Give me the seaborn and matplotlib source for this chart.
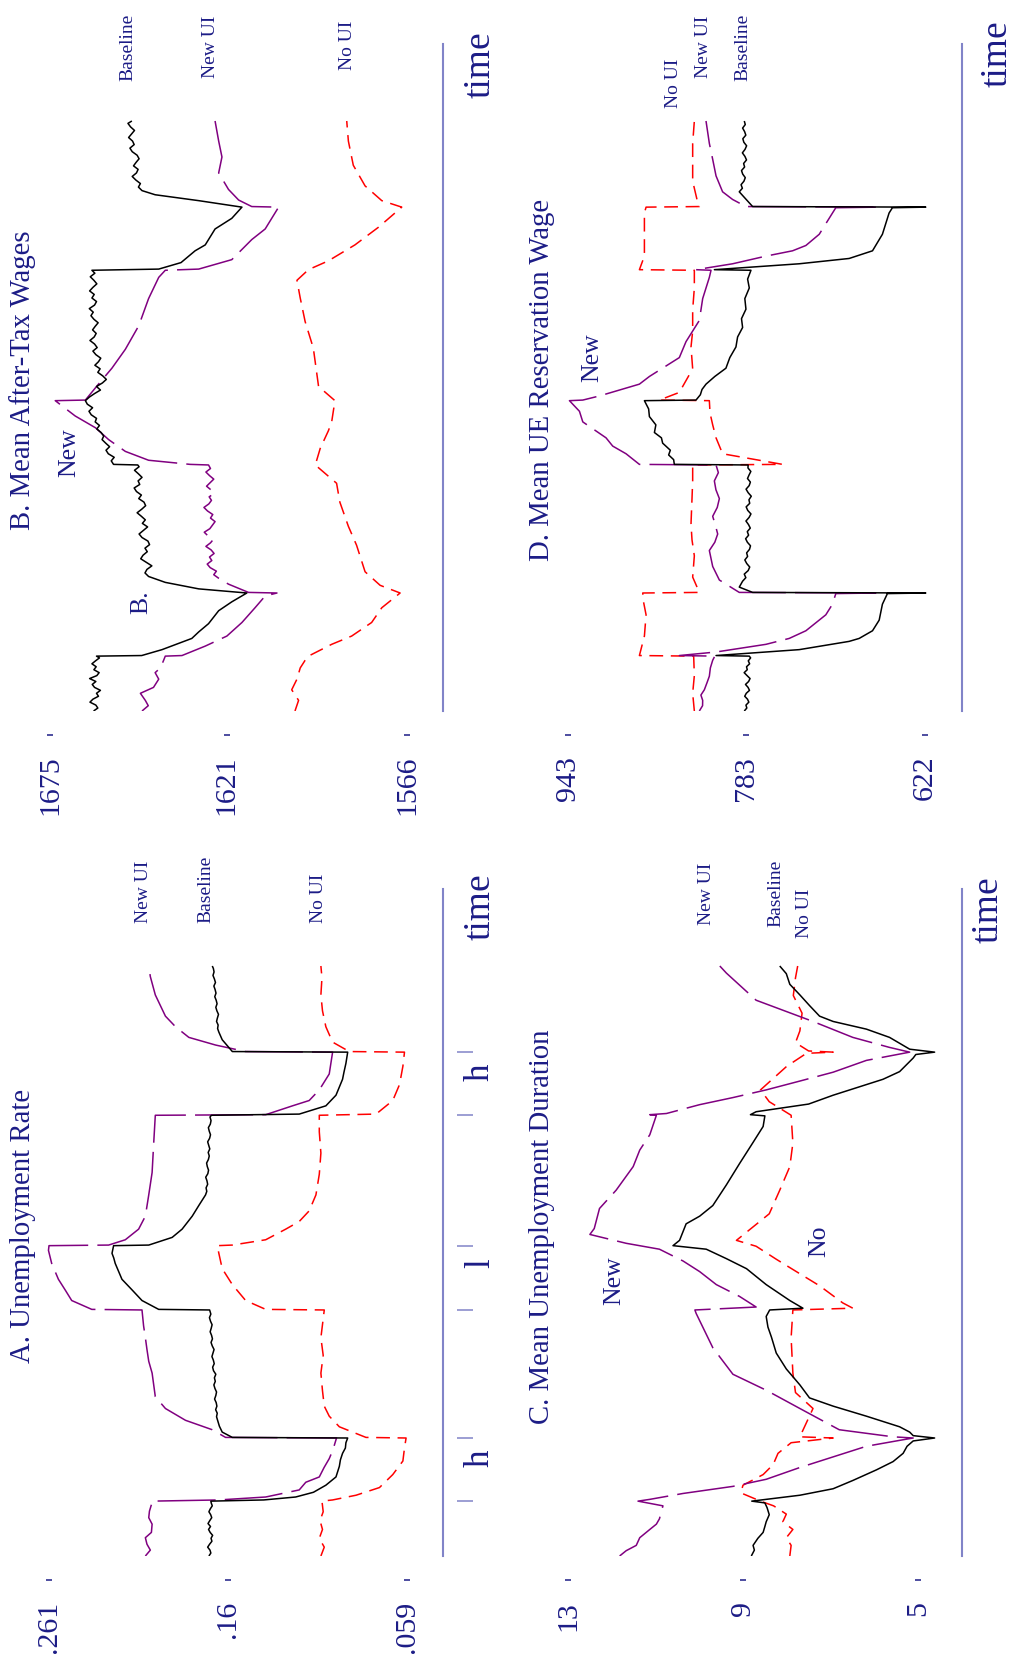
import matplotlib
matplotlib.use("Agg")
import matplotlib.pyplot as plt
import matplotlib.ticker as mticker
import seaborn as sns

sns.set_theme(style="white")
plt.rcParams["font.family"] = ["Liberation Serif", "DejaVu Serif"]

NAVY = "#1c1c86"
AXIS = "#8184c8"
BLACK = "#000000"
PURPLE = "#800080"
RED = "#ff0000"

W, H = 1012, 1664
PX_T = 5.9      # pixels per time unit
T_MAX = 113

# regime boundaries on the time axis (h, l, h shocks)
BOUNDS = [9.3, 20.0, 41.7, 52.6, 74.8, 85.4]
REGIME_LABELS = ["h", "l", "h"]

# ---------------- Panel A: unemployment rate ----------------
A_TICKS = [.261, .16, .059]
A_TICKLABELS = [".261", ".16", ".059"]
A_BASE = [(0, .1709), (.5, .1698), (1, .1703), (1.5, .1716), (2, .1705), (2.5, .1692), (3, .1697),
          (3.5, .1688), (4, .1702), (4.5, .1711), (5, .1700), (5.5, .1714), (6, .1704), (6.5, .1693),
          (7, .1699), (7.5, .1709), (8, .1701), (8.5, .1690), (9, .1696), (9.3, .1698),
          (9.5, .1400), (10.0, .1220), (10.8, .1120), (12.0, .1050), (13.4, .0993), (15.2, .0974),
          (16.3, .0968), (17.4, .0956), (18.3, .0940), (19.2, .0937), (20.0, .0927),
          (20.1, .1577), (21.0, .1634), (22.0, .1650), (23, .1660), (23.6, .1666), (24.2, .1662),
          (24.8, .1671), (25.4, .1664), (26, .1668), (26.6, .1677), (27.2, .1670), (27.8, .1666),
          (28.4, .1675), (29, .1681), (29.6, .1673), (30.2, .1678), (30.8, .1670), (31.4, .1683),
          (32, .1688), (32.6, .1679), (33.2, .1684), (33.8, .1692), (34.4, .1686), (35, .1680),
          (35.6, .1690), (36.2, .1697), (36.8, .1689), (37.4, .1694), (38, .1702), (38.6, .1696),
          (39.2, .1691), (39.8, .1700), (40.4, .1706), (41, .1698), (41.7, .1705),
          (41.8, .1992), (43.3, .2086), (45.1, .2142), (46.9, .2199), (49.6, .2237), (50.5, .2245),
          (51.3, .2255), (52.6, .2246),
          (52.7, .2048), (54.0, .1916), (55.4, .1860), (57.6, .1803), (59.4, .1766), (61.2, .1728),
          (61.8, .1721), (62.4, .1725), (63, .1716), (63.6, .1720), (64.2, .1727), (64.8, .1715),
          (65.4, .1711), (66, .1718), (66.6, .1722), (67.2, .1712), (67.8, .1707), (68.4, .1713),
          (69, .1704), (69.6, .1710), (70.2, .1716), (70.8, .1705), (71.4, .1700), (72, .1707),
          (72.6, .1712), (73.2, .1701), (73.8, .1697), (74.4, .1703), (74.7, .1695),
          (74.9, .1200), (76.3, .1050), (78.1, .0993), (80.8, .0956), (82.0, .0948), (83.5, .0937),
          (85.4, .0927),
          (85.5, .1577), (87.5, .1634), (88.8, .1653), (89.4, .1660), (90, .1657), (90.6, .1666),
          (91.2, .1661), (91.8, .1655), (92.4, .1664), (93, .1670), (93.6, .1663), (94.2, .1668),
          (94.8, .1676), (95.4, .1669), (96, .1674), (96.6, .1681), (97.2, .1672), (97.8, .1678),
          (98.4, .1686), (99, .1680), (99.6, .1684), (100, .1690)]
A_NEW = [(0, .2067), (1.0, .2039), (2.0, .2058), (3.1, .2067), (4.0, .2033), (5.4, .2029),
         (6.5, .2048), (7.6, .2044), (8.7, .2033), (9.3, .2029),
         (9.5, .1653), (10.0, .1389), (11.2, .1200), (12.5, .1163), (13.4, .1087), (15.0, .1060),
         (16.5, .1031), (18.0, .1010), (20.0, .0990),
         (20.1, .1615), (21.4, .1690), (23.0, .1841), (25.0, .1954), (27.0, .2011), (29.0, .2020),
         (31.0, .2029), (33.0, .2048), (35.0, .2058), (37.0, .2067), (39.0, .2077), (41.7, .2086),
         (41.8, .2369), (43.3, .2482), (45.1, .2519), (46.9, .2557), (49.6, .2595), (51.8, .2613),
         (52.6, .2610),
         (52.7, .2274), (53.6, .2180), (55.4, .2105), (57.6, .2067), (61.2, .2048), (65.0, .2029),
         (70.0, .2020), (74.7, .2011),
         (74.8, .1389), (76.3, .1238), (77.2, .1144), (79.0, .1087), (81.7, .1031), (85.4, .1012),
         (85.5, .1502), (86.6, .1671), (87.9, .1822), (89.7, .1897), (91.5, .1954), (95.1, .2011),
         (98.2, .2039), (100, .2048)]
A_NOUI = [(0, .1078), (1.5, .1059), (3.0, .1087), (4.5, .1069), (6.0, .1083), (7.5, .1065), (9.3, .1072),
          (9.5, .1012), (10.3, .0880), (11.6, .0748), (13.8, .0673), (16.1, .0616), (18.3, .0607),
          (20.0, .0598),
          (20.1, .0824), (21.9, .0974), (23.7, .1031), (25.4, .1059), (28.0, .1069), (31.0, .1078),
          (34.0, .1065), (37.0, .1078), (41.7, .1059),
          (41.8, .1389), (43.3, .1502), (46.0, .1577), (48.7, .1634), (51.3, .1653), (52.6, .1662),
          (52.7, .1577), (53.6, .1389), (55.4, .1276), (56.7, .1200), (58.5, .1144), (61.2, .1106),
          (64.7, .1087), (68.3, .1078), (71.9, .1087), (74.7, .1087),
          (74.9, .0767), (77.2, .0673), (79.9, .0635), (83.0, .0616), (85.4, .0607),
          (85.5, .0918), (87.1, .1012), (89.7, .1050), (92.4, .1069), (95.1, .1078), (98.0, .1072),
          (100, .1078)]

# ---------------- Panel B: mean after-tax wages ----------------
B_TICKS = [1675, 1621, 1566]
B_TICKLABELS = ["1675", "1621", "1566"]
B_BASE = [(0, 1661.7), (.5, 1660.4), (1, 1661.0), (1.5, 1662.8), (2, 1661.9), (2.5, 1660.2), (3, 1660.8),
          (3.5, 1659.6), (4, 1661.4), (4.5, 1662.1), (5, 1661.0), (5.5, 1662.9), (6, 1660.7), (6.5, 1660.0),
          (7, 1661.6), (7.5, 1660.9), (8, 1662.2), (8.5, 1661.1), (9, 1659.9), (9.3, 1660.8),
          (9.4, 1647.0), (10.4, 1640.8), (12.3, 1631.7), (13.4, 1629.6), (14.8, 1626.6), (17.0, 1623.5),
          (18.5, 1619.5), (20.0, 1614.9),
          (20.7, 1629.6), (21.8, 1639.8), (22.8, 1644.9), (23.4, 1646.0), (24, 1645.4), (24.6, 1643.9),
          (25.2, 1645.6), (25.8, 1647.3), (26.4, 1646.6), (27, 1645.3), (27.6, 1646.0), (28.2, 1644.6),
          (28.8, 1645.1), (29.4, 1646.9), (30, 1647.8), (30.6, 1646.5), (31.2, 1645.2), (31.8, 1646.8),
          (32.4, 1645.9), (33, 1647.1), (33.6, 1648.4), (34.2, 1647.0), (34.8, 1645.8), (35.4, 1646.3),
          (36, 1647.9), (36.6, 1647.1), (37.2, 1648.6), (37.8, 1649.3), (38.4, 1647.6), (39, 1648.1),
          (39.6, 1646.9), (40.2, 1648.0), (40.8, 1649.2), (41.4, 1647.8), (41.7, 1648.2),
          (41.8, 1655.6), (42.4, 1656.3), (43, 1655.4), (43.6, 1657.2), (44.2, 1657.9), (44.8, 1656.8),
          (45.4, 1658.0), (46, 1659.1), (46.6, 1658.6), (47.2, 1659.4), (47.8, 1660.7), (48.4, 1659.9),
          (49, 1661.2), (49.6, 1660.8), (50.2, 1662.4), (50.8, 1663.1), (51.4, 1662.0), (52, 1663.6),
          (52.6, 1664.2),
          (53.2, 1663.0), (53.8, 1661.4), (54.4, 1659.6), (55, 1660.8), (55.6, 1659.0), (56.2, 1657.8),
          (56.8, 1658.9), (57.4, 1660.4), (58, 1659.7), (58.6, 1661.3), (59.2, 1660.2), (59.8, 1659.5),
          (60.4, 1661.0), (61, 1661.9), (61.6, 1660.6), (62.2, 1661.4), (62.8, 1662.8), (63.4, 1661.5),
          (64, 1660.9), (64.6, 1662.0), (65.2, 1661.2), (65.8, 1660.3), (66.4, 1661.6), (67, 1662.5),
          (67.6, 1661.8), (68.2, 1663.0), (68.8, 1661.4), (69.4, 1660.8), (70, 1662.2), (70.6, 1661.5),
          (71.2, 1662.9), (71.8, 1661.9), (72.4, 1660.7), (73, 1661.6), (73.6, 1662.7), (74.2, 1661.3),
          (74.7, 1662.2),
          (74.9, 1641.8), (76.0, 1635.0), (78.0, 1630.7), (79.0, 1627.6), (81.7, 1624.6), (83.5, 1619.5),
          (85.4, 1616.4),
          (86.5, 1629.6), (87.5, 1642.9), (88.2, 1646.9), (88.8, 1648.0), (89.4, 1647.4), (90, 1648.8),
          (90.6, 1649.9), (91.2, 1648.6), (91.8, 1648.1), (92.4, 1649.5), (93, 1648.7), (93.6, 1647.8),
          (94.2, 1648.4), (94.8, 1649.9), (95.4, 1650.6), (96, 1649.3), (96.6, 1649.8), (97.2, 1651.0),
          (97.8, 1650.1), (98.4, 1649.2), (99, 1650.4), (99.6, 1651.2), (100, 1650.0)]
B_NEW = [(0, 1646.9), (0.9, 1645.0), (1.8, 1645.9), (3.0, 1647.4), (4.0, 1643.4), (5.4, 1641.8),
         (6.5, 1642.9), (7.3, 1641.3), (8.6, 1640.3), (9.3, 1639.8),
         (9.4, 1634.7), (11.0, 1627.6), (12.7, 1621.0), (15.0, 1616.4), (17.5, 1612.4), (19.5, 1609.3),
         (20.0, 1605.7),
         (20.1, 1614.4), (21.5, 1620.5), (22.5, 1623.5), (23.1, 1625.0), (23.7, 1624.2), (24.3, 1626.1),
         (24.9, 1627.0), (25.5, 1625.6), (26.1, 1626.3), (26.7, 1624.9), (27.3, 1625.8), (27.9, 1627.4),
         (28.5, 1626.0), (29.1, 1625.1), (29.7, 1626.8), (30.3, 1627.9), (30.9, 1626.2), (31.5, 1625.4),
         (32.1, 1624.6), (32.7, 1626.0), (33.3, 1625.3), (33.9, 1626.9), (34.5, 1628.0), (35.1, 1626.5),
         (35.7, 1625.7), (36.3, 1626.4), (36.9, 1624.8), (37.5, 1625.9), (38.1, 1627.2), (38.7, 1626.1),
         (39.3, 1625.0), (39.9, 1626.3), (40.5, 1627.4), (41.1, 1626.0), (41.7, 1626.6),
         (41.8, 1632.2), (42.5, 1644.9), (44.0, 1652.0), (46.0, 1657.1), (48.0, 1661.1), (50.0, 1667.3),
         (52.6, 1673.4),
         (52.7, 1664.2), (55.4, 1660.2), (58.1, 1656.1), (61.3, 1652.0), (65.3, 1647.9), (69.9, 1644.9),
         (73.5, 1641.8), (74.7, 1639.8),
         (74.9, 1629.6), (76.5, 1619.5), (79.9, 1613.4), (81.7, 1609.3), (85.4, 1605.2),
         (85.5, 1613.4), (86.6, 1617.4), (88.4, 1620.5), (91.2, 1623.5), (93.9, 1622.5), (96.6, 1623.5),
         (100, 1624.6)]
B_NOUI = [(0, 1600.2), (1.8, 1599.1), (3.6, 1601.2), (5.4, 1599.6), (7.3, 1598.6), (8.6, 1597.1),
          (9.3, 1596.1),
          (11.3, 1589.0), (12.7, 1582.9), (15.0, 1576.8), (17.5, 1573.7), (20.0, 1568.1),
          (21.3, 1574.2), (23.6, 1578.8), (28.1, 1581.4), (31.3, 1583.9), (35.4, 1586.5), (38.6, 1587.5),
          (41.7, 1594.0),
          (44.5, 1592.5), (47.5, 1590.0), (49.0, 1589.0), (52.6, 1588.0),
          (55.0, 1593.0), (61.5, 1594.6), (66.0, 1597.1), (70.0, 1598.6), (73.0, 1599.6), (74.8, 1596.1),
          (76.3, 1590.0), (79.0, 1581.9), (82.0, 1574.7), (85.4, 1567.6),
          (86.5, 1573.7), (89.0, 1578.8), (92.5, 1582.4), (96.6, 1583.9), (100, 1584.4)]

# ---------------- Panel C: mean unemployment duration ----------------
C_TICKS = [13, 9, 5]
C_TICKLABELS = ["13", "9", "5"]
C_BASE = [(0, 8.81), (1.0, 8.74), (1.8, 8.77), (3.0, 8.66), (4.0, 8.54), (5.0, 8.50), (5.8, 8.47),
          (7.0, 8.40), (8.2, 8.45), (9.0, 8.50), (9.3, 8.80),
          (9.6, 8.47), (10.3, 7.70), (11.4, 6.94), (12.8, 6.49), (14.6, 5.95), (16.0, 5.57), (17.4, 5.34),
          (18.6, 5.25), (19.5, 5.11), (20.0, 4.62),
          (20.4, 5.11), (21.0, 5.19), (21.9, 5.42), (23.7, 6.18), (25.4, 6.94), (26.8, 7.48), (29.0, 7.70),
          (31.7, 8.01), (34.4, 8.24), (37.1, 8.35), (38.8, 8.43), (40.6, 8.47), (41.7, 8.39),
          (42.0, 7.63), (43.3, 7.93), (46.0, 8.47), (48.7, 8.92), (50.4, 9.38), (52.0, 9.84), (52.6, 10.60),
          (53.5, 10.45), (56.3, 10.30), (57.6, 9.99), (59.4, 9.69), (62.9, 9.38), (66.5, 9.08), (70.1, 8.77),
          (72.8, 8.54), (74.6, 8.50), (74.8, 8.83),
          (75.3, 8.70), (76.6, 7.50), (78.1, 6.94), (80.8, 5.80), (82.1, 5.42), (84.4, 5.11), (85.0, 5.05),
          (85.4, 4.62),
          (85.9, 5.19), (87.9, 5.65), (89.3, 6.18), (90.6, 6.94), (91.5, 7.25), (93.3, 7.48), (95.1, 7.70),
          (96.9, 7.93), (98.7, 8.01), (100, 8.16)]
C_NEW = [(0, 11.82), (0.9, 11.67), (1.8, 11.44), (3.1, 11.36), (4.5, 11.13), (5.4, 10.98), (6.3, 10.91),
         (8.5, 10.83), (9.3, 11.40),
         (9.6, 11.13), (10.6, 10.37), (11.8, 9.23), (13.0, 8.47), (15.0, 7.70), (16.8, 6.94), (18.6, 6.18),
         (19.6, 5.42), (20.0, 5.11),
         (20.2, 5.57), (21.4, 6.80), (25.0, 7.70), (28.1, 8.47), (30.8, 9.23), (35.3, 9.69), (41.1, 10.07),
         (41.7, 10.10),
         (42.2, 8.70), (44.0, 9.08), (46.0, 9.61), (48.2, 9.99), (50.0, 10.37), (52.0, 10.91), (53.0, 11.67),
         (54.5, 12.50),
         (55.5, 12.40), (58.9, 12.28), (62.0, 11.90), (66.0, 11.51), (68.8, 11.36), (71.4, 11.13),
         (74.7, 10.98), (74.8, 11.13),
         (75.0, 10.75), (76.5, 9.99), (77.7, 9.23), (79.0, 8.47), (80.5, 7.70), (82.0, 6.94), (84.0, 6.18),
         (85.4, 5.19),
         (86.2, 5.65), (87.9, 6.49), (90.6, 7.40), (94.2, 8.70), (98.8, 9.38), (100, 9.53)]
C_NOUI = [(0, 7.93), (1.8, 7.90), (3.1, 8.01), (4.5, 7.86), (5.8, 8.09), (7.1, 8.01), (8.5, 8.30),
          (9.3, 8.60),
          (10.7, 9.05), (12.0, 9.00), (13.8, 8.54), (15.5, 8.31), (17.4, 8.20), (19.2, 7.90), (20.0, 6.94),
          (20.2, 7.70), (25.0, 7.40), (27.7, 7.80), (31.0, 7.86), (37.0, 7.90), (41.7, 7.86),
          (42.0, 6.49), (42.9, 6.72), (45.8, 7.25), (48.2, 7.78), (50.3, 8.24), (52.5, 8.70), (53.5, 9.15),
          (55.0, 8.90), (58.0, 8.40), (62.0, 8.16), (66.0, 7.93), (70.0, 7.86), (74.7, 7.90),
          (77.0, 8.40), (79.0, 8.60), (81.0, 8.30), (83.0, 8.00), (85.2, 7.55), (85.4, 6.94),
          (85.6, 7.50), (87.0, 7.80), (89.0, 7.70), (92.0, 7.65), (95.0, 7.85), (98.0, 7.80), (100, 7.75)]

# ---------------- Panel D: mean UE reservation wage ----------------
D_TICKS = [943, 783, 622]
D_TICKLABELS = ["943", "783", "622"]
D_BASE = [(0, 784.5), (.5, 782.2), (1, 783.0), (1.5, 780.4), (2, 781.6), (2.5, 784.1), (3, 782.7),
          (3.5, 779.8), (4, 781.1), (4.5, 783.4), (5, 780.6), (5.5, 779.3), (6, 782.0), (6.5, 784.6),
          (7, 781.8), (7.5, 782.5), (8, 779.7), (8.5, 780.9), (9, 778.8), (9.3, 780.0),
          (9.4, 809.9), (10.4, 735.1), (11.8, 690.2), (12.3, 681.2), (13.6, 669.2), (15.4, 663.2),
          (18.1, 660.3), (19.9, 655.8), (20.0, 621.3),
          (20.1, 777.0), (21.0, 789.0), (22, 786.0), (22.6, 783.1), (23.2, 784.5), (23.8, 781.0),
          (24.4, 779.6), (25, 782.3), (25.6, 784.0), (26.2, 781.5), (26.8, 782.4), (27.4, 779.8),
          (28, 778.9), (28.6, 781.7), (29.2, 783.3), (29.8, 780.6), (30.4, 781.8), (31, 779.1),
          (31.6, 780.7), (32.2, 783.0), (32.8, 780.2), (33.4, 778.5), (34, 781.4), (34.6, 782.8),
          (35.2, 779.6), (35.8, 780.3), (36.4, 778.2), (37, 781.0), (37.6, 782.9), (38.2, 780.1),
          (38.8, 779.0), (39.4, 781.6), (40, 780.2), (40.6, 778.6), (41.2, 781.2), (41.7, 781.0),
          (41.8, 847.4), (42.6, 848.0), (43.4, 852.5), (44.2, 851.0), (45.4, 857.9), (46.3, 859.0),
          (47.2, 865.3), (48.5, 864.0), (49.9, 869.8), (51.2, 870.5), (52.6, 874.3),
          (52.7, 827.9), (53.6, 824.0), (54.5, 822.5), (55.4, 818.9), (56.7, 811.0), (58.1, 801.0),
          (59.9, 797.5), (61.7, 792.0), (63.4, 790.5), (65.0, 786.0), (66.5, 787.0), (68.1, 783.0),
          (69.9, 784.0), (71.7, 780.0), (73.2, 781.5), (74.7, 778.5),
          (74.8, 811.4), (75.8, 735.1), (76.7, 690.2), (78.0, 669.2), (80.8, 660.3), (84.4, 654.3),
          (85.3, 651.3), (85.4, 621.3),
          (85.5, 777.0), (88, 789.0), (88.6, 786.2), (89.2, 787.4), (89.8, 784.8), (90.4, 783.6),
          (91, 785.9), (91.6, 787.0), (92.2, 784.2), (92.8, 785.1), (93.4, 782.5), (94, 783.9),
          (94.6, 786.2), (95.2, 783.8), (95.8, 782.4), (96.4, 784.9), (97, 785.8), (97.6, 783.1),
          (98.2, 784.2), (98.8, 786.0), (99.4, 783.6), (100, 784.5)]
D_NEW = [(0, 824.9), (0.9, 822.0), (1.8, 821.9), (2.7, 823.5), (3.6, 820.4), (4.8, 818.0), (5.9, 815.9),
         (7.3, 815.0), (8.6, 812.9), (9.3, 811.0),
         (9.4, 842.9), (10.0, 809.9), (11.3, 765.0), (12.3, 744.1), (13.6, 729.1), (16.3, 711.2),
         (18.1, 705.2), (19.9, 702.2), (20.0, 666.2),
         (20.1, 789.0), (22.2, 806.9), (24.5, 812.9), (27.2, 815.9), (28.6, 811.0), (30.0, 808.4),
         (31.5, 810.5), (33.0, 812.9), (34.5, 808.8), (36.0, 806.9), (37.5, 810.0), (39.0, 811.4),
         (40.4, 807.8), (41.7, 809.9),
         (41.8, 878.8), (43.6, 890.8), (44.9, 902.8), (46.3, 908.8), (49.0, 929.7), (50.8, 932.7),
         (52.6, 941.7),
         (52.7, 929.7), (53.4, 914.7), (55.4, 878.8), (56.7, 869.8), (59.9, 842.9), (62.6, 836.9),
         (66.2, 824.9), (69.9, 821.9), (73.5, 815.9), (74.7, 814.4),
         (74.8, 827.9), (75.8, 795.0), (77.1, 765.0), (78.0, 741.1), (78.9, 729.1), (80.8, 717.1),
         (84.4, 705.2), (85.3, 702.2), (85.4, 663.2),
         (85.5, 783.0), (86.7, 795.0), (88.0, 804.0), (90.7, 809.9), (93.5, 812.9), (96.2, 815.9),
         (100, 818.9)]
D_NOUI = [(0, 829.4), (3.0, 830.9), (6.0, 829.4), (9.3, 830.0),
          (9.4, 878.8), (12.7, 874.3), (16.3, 872.8), (18.6, 875.2), (20.0, 875.8),
          (20.1, 824.9), (22.7, 830.9), (26.3, 829.4), (29.0, 831.5), (31.7, 832.4), (36.0, 831.5),
          (39.0, 830.9), (41.7, 830.9),
          (41.8, 750.1), (43.6, 804.0), (46.3, 809.9), (48.5, 812.9), (50.5, 815.3), (52.6, 815.9),
          (52.7, 860.8), (54.0, 842.9), (58.0, 830.9), (61.7, 832.4), (64.4, 830.9), (68.0, 830.9),
          (71.7, 829.4), (74.7, 829.4),
          (74.8, 878.8), (77.1, 874.3), (80.8, 874.3), (84.4, 874.3), (85.4, 872.8),
          (85.5, 824.9), (86.2, 826.4), (89.8, 830.9), (93.5, 830.9), (96.2, 830.9), (100, 829.4)]

STYLES = {
    "base": dict(color=BLACK, lw=1.1, linestyle="-"),
    "new": dict(color=PURPLE, lw=1.1, linestyle=(0, (38, 6))),
    "noui": dict(color=RED, lw=1.1, linestyle=(0, (9, 5))),
}

fig = plt.figure(figsize=(W / 100, H / 100), dpi=100)


def fig_text(x, y, s, size, **kw):
    fig.text(x / W, 1 - y / H, s, fontsize=size, color=NAVY, rotation=90, **kw)


def panel(x0, x1, t0_px, ticks, tick_px, ticklabels, line_px, series):
    ytop = t0_px - T_MAX * PX_T
    ax = fig.add_axes([x0 / W, 1 - t0_px / H, (x1 - x0) / W, (t0_px - ytop) / H])
    slope = (ticks[-1] - ticks[0]) / (tick_px[-1] - tick_px[0])
    ax.set_xlim(ticks[0] + (x0 - tick_px[0]) * slope, ticks[0] + (x1 - tick_px[0]) * slope)
    ax.set_ylim(0, T_MAX)

    for key, pts in series:
        t = [p[0] for p in pts]
        v = [p[1] for p in pts]
        sns.lineplot(x=v, y=t, sort=False, estimator=None, ax=ax, legend=False,
                     solid_capstyle="butt", **STYLES[key])
    ax.set_xlabel("")
    ax.set_ylabel("")

    # time axis line (left spine moved to the right of the plot)
    ax.spines["left"].set_position(("axes", (line_px - x0) / (x1 - x0)))
    ax.spines["left"].set_bounds(0, T_MAX)
    ax.spines["left"].set_color(AXIS)
    ax.spines["left"].set_linewidth(1.5)
    ax.spines["top"].set_visible(False)
    ax.spines["right"].set_visible(False)

    # value axis: small horizontal dash marks below the data, labels rotated
    ax.spines["bottom"].set_visible(False)
    ax.spines["bottom"].set_position(("outward", 24 * 0.72))
    ax.set_xticks(ticks)
    ax.set_xticklabels(ticklabels)
    ax.tick_params(axis="x", bottom=True, direction="out", length=1.0, color=NAVY,
                   pad=14, labelsize=21.5, labelcolor=NAVY, labelrotation=90)
    for tk in ax.xaxis.get_major_ticks():
        tk.tick1line.set_marker("_")
        tk.tick1line.set_markersize(4.5)
        tk.tick1line.set_markeredgewidth(1.1)
    ax.set_yticks([])
    ax.grid(False)
    return ax


ax_a = panel(40, 420, 1556, A_TICKS, [49, 228.5, 407.5], A_TICKLABELS, 443,
             [("noui", A_NOUI), ("new", A_NEW), ("base", A_BASE)])
ax_b = panel(40, 420, 711, B_TICKS, [50, 228, 407], B_TICKLABELS, 443,
             [("noui", B_NOUI), ("new", B_NEW), ("base", B_BASE)])
ax_c = panel(555, 945, 1556, C_TICKS, [568, 743, 918], C_TICKLABELS, 962,
             [("noui", C_NOUI), ("new", C_NEW), ("base", C_BASE)])
ax_d = panel(555, 945, 711, D_TICKS, [568, 747, 925], D_TICKLABELS, 962,
             [("noui", D_NOUI), ("new", D_NEW), ("base", D_BASE)])

# regime ticks and labels on panel A's time axis
ax_a.yaxis.tick_right()
ax_a.spines["right"].set_position(("outward", 37 * 0.72))
ax_a.yaxis.set_major_locator(mticker.FixedLocator(BOUNDS))
ax_a.yaxis.set_major_formatter(mticker.NullFormatter())
mids = [(BOUNDS[i] + BOUNDS[i + 1]) / 2 + 1.2 for i in (0, 2, 4)]
ax_a.yaxis.set_minor_locator(mticker.FixedLocator(mids))
ax_a.yaxis.set_minor_formatter(mticker.FixedFormatter(REGIME_LABELS))
ax_a.tick_params(axis="y", which="major", direction="out", length=16 * 0.72, width=1.1,
                 color=AXIS, right=True, left=False)
ax_a.tick_params(axis="y", which="minor", length=0, pad=5, labelsize=25, labelcolor=NAVY,
                 labelrotation=90, right=True, left=False)

# panel titles
fig_text(23, 1226, "A. Unemployment Rate", 20.7, ha="center", va="center")
fig_text(23, 380, "B. Mean After-Tax Wages", 20.7, ha="center", va="center")
fig_text(542, 1227, "C. Mean Unemployment Duration", 20.7, ha="center", va="center")
fig_text(542, 380, "D. Mean UE Reservation Wage", 20.7, ha="center", va="center")

# series labels at the end of the lines
lab = dict(ha="left", va="baseline", rotation_mode="anchor")
for x, y, s in [(148, 923, "New UI"), (210, 923, "Baseline"), (323, 923, "No UI"),
                (132, 81, "Baseline"), (215, 78, "New UI"), (352, 70, "No UI"),
                (711, 925, "New UI"), (780, 927, "Baseline"), (809, 938, "No UI"),
                (678, 108, "No UI"), (708, 78, "New UI"), (747, 81, "Baseline")]:
    fig_text(x, y, s, 14, **lab)

# stray in-plot labels
for x, y, s in [(75, 477, "New"), (147, 614, "B."), (620, 1305, "New"),
                (825, 1257, "No"), (598, 382, "New")]:
    fig_text(x, y, s, 18.5, **lab)

# axis titles
for x, y in [(490, 940), (490, 98), (998, 943), (1007, 87)]:
    fig_text(x, y, "time", 27, **lab)

fig.savefig("out.png", dpi=100, facecolor="white")
